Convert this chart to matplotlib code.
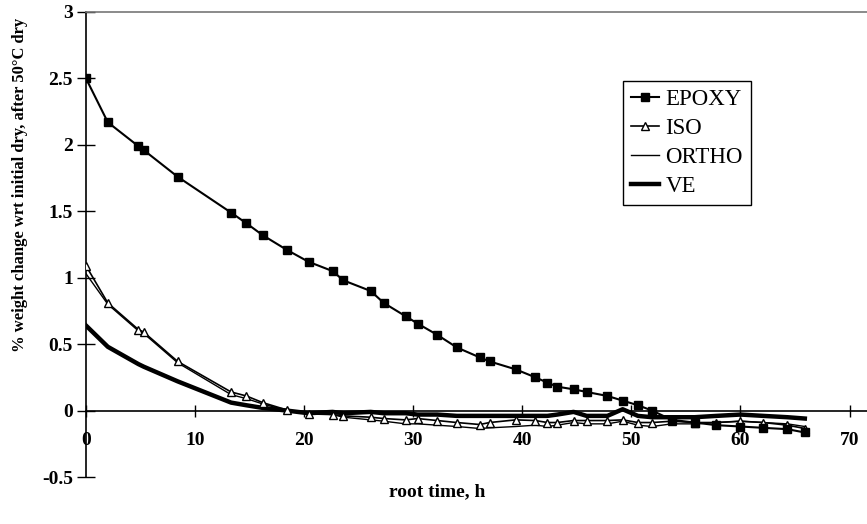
import matplotlib
matplotlib.use("Agg")
import matplotlib.pyplot as plt

# root time (h) at each weighing
times = [0, 2.0, 4.8, 5.3, 8.4, 13.3, 14.7, 16.2, 18.4, 20.4, 22.6, 23.6, 26.1, 27.3,
         29.3, 30.4, 32.2, 34.0, 36.1, 37.0, 39.4, 41.2, 42.3, 43.2, 44.7, 45.9, 47.8,
         49.2, 50.6, 51.9, 53.7, 55.8, 57.8, 60.0, 62.1, 64.3, 65.9]

epoxy = [2.50, 2.17, 1.99, 1.96, 1.76, 1.49, 1.41, 1.32, 1.21, 1.12, 1.05, 0.98, 0.90, 0.81,
         0.71, 0.655, 0.57, 0.475, 0.40, 0.37, 0.31, 0.25, 0.21, 0.18, 0.16, 0.14, 0.11,
         0.075, 0.04, 0.0, -0.07, -0.09, -0.11, -0.12, -0.13, -0.14, -0.165]

iso = [1.09, 0.81, 0.61, 0.59, 0.37, 0.14, 0.11, 0.06, 0.005, -0.025, -0.03, -0.04, -0.05, -0.06,
       -0.07, -0.06, -0.075, -0.09, -0.105, -0.09, -0.07, -0.075, -0.09, -0.09, -0.075, -0.075, -0.075,
       -0.07, -0.09, -0.09, -0.08, -0.09, -0.09, -0.08, -0.09, -0.11, -0.135]

ortho = [1.03, 0.80, 0.60, 0.58, 0.36, 0.12, 0.09, 0.05, 0.0, -0.02, -0.03, -0.05, -0.07, -0.08,
         -0.10, -0.10, -0.11, -0.12, -0.135, -0.13, -0.12, -0.11, -0.12, -0.11, -0.09, -0.10, -0.10,
         -0.08, -0.11, -0.12, -0.10, -0.10, -0.09, -0.08, -0.09, -0.10, -0.12]

ve = [0.64, 0.48, 0.35, 0.33, 0.22, 0.06, 0.04, 0.02, 0.0, -0.02, -0.01, -0.02, -0.01, -0.02,
      -0.02, -0.03, -0.03, -0.04, -0.04, -0.04, -0.04, -0.04, -0.04, -0.03, -0.01, -0.04, -0.04,
      0.01, -0.04, -0.05, -0.05, -0.05, -0.04, -0.03, -0.04, -0.05, -0.06]

xticks = [0, 10, 20, 30, 40, 50, 60, 70]
yticks = [-0.5, 0, 0.5, 1, 1.5, 2, 2.5, 3]
ytick_labels = ["-0.5", "0", "0.5", "1", "1.5", "2", "2.5", "3"]

plt.rcParams["font.family"] = ["Liberation Serif", "DejaVu Serif"]

fig = plt.figure(figsize=(8.67, 5.24), dpi=100)
ax = fig.add_axes([86 / 867, 1 - 477 / 524, 1 - 86 / 867, (477 - 12) / 524])

ax.plot(times, epoxy, color="black", lw=1.5, marker="s", ms=6, label="EPOXY", zorder=5)
ax.plot(times, iso, color="black", lw=1.2, marker="^", ms=6, mfc="white", mew=1, label="ISO", zorder=4)
ax.plot(times, ortho, color="black", lw=1.0, label="ORTHO", zorder=3)
ax.plot(times, ve, color="black", lw=3.2, label="VE", zorder=3)

ax.set_xlim(0, 71.6)
ax.set_ylim(-0.5, 3)

ax.spines["right"].set_visible(False)
ax.spines["bottom"].set_position(("data", 0))
ax.spines["bottom"].set_linewidth(1.2)
ax.spines["left"].set_linewidth(1.2)
ax.spines["top"].set_color("#777777")
ax.spines["top"].set_linewidth(1.2)

ax.set_xticks(xticks)
ax.set_xticklabels([str(t) for t in xticks], fontsize=14, fontweight="bold")
ax.set_yticks(yticks)
ax.set_yticklabels(ytick_labels, fontsize=14, fontweight="bold")
ax.tick_params(axis="x", direction="inout", length=9, width=1, pad=11)
ax.tick_params(axis="y", direction="inout", length=13, width=1, pad=3)

fig.text(437 / 867, 1 - 492 / 524, "root time, h", fontsize=14, fontweight="bold",
         ha="center", va="center")
fig.text(20 / 867, 1 - 185 / 524, "% weight change wrt initial dry, after 50\u00b0C dry",
         fontsize=12, fontweight="bold", rotation=90, ha="center", va="center")

leg = ax.legend(loc="upper left", bbox_to_anchor=(623 / 867, 1 - 81 / 524),
                bbox_transform=fig.transFigure, borderaxespad=0, prop={"size": 16.5},
                handlelength=1.2, handletextpad=0.3, labelspacing=0.35, borderpad=0.35,
                fancybox=False, framealpha=1, edgecolor="black")
leg.get_frame().set_linewidth(1.0)

fig.savefig("out.png", dpi=100)
